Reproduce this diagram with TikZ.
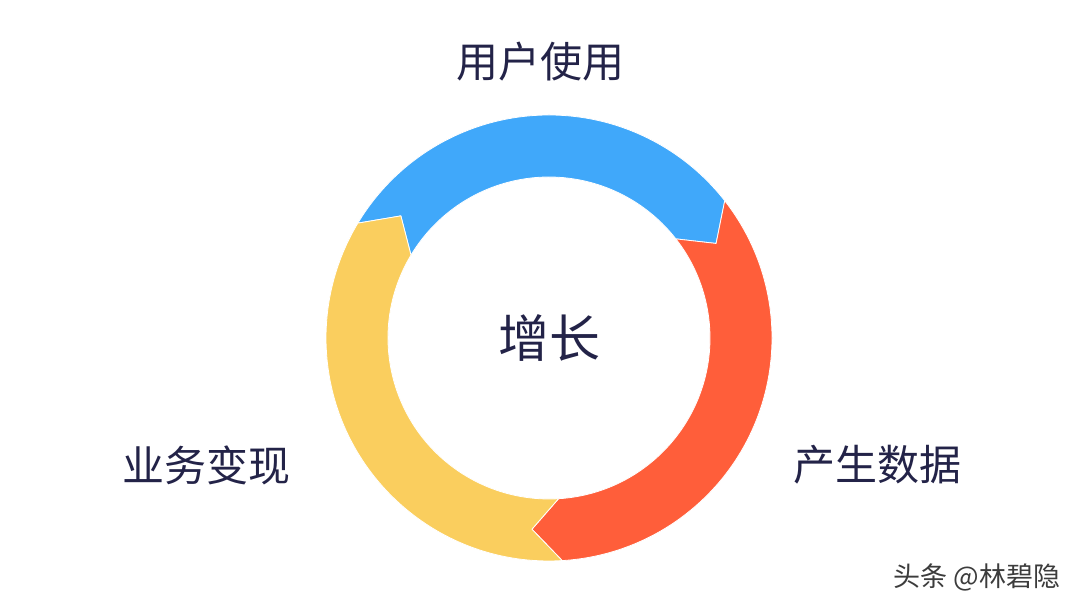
\documentclass[tikz,border=0pt]{standalone}
\usepackage{fontspec}
\newfontfamily\cjk{Noto Sans CJK SC}
\usepackage{tikz}
\definecolor{ringblue}{RGB}{64,168,250}
\definecolor{ringred}{RGB}{255,94,58}
\definecolor{ringyellow}{RGB}{250,206,94}
\definecolor{navy}{RGB}{35,35,72}
\definecolor{markgray}{RGB}{60,60,60}
\newcommand\rout{223}
\newcommand\rin{161}
\newcommand\rmid{192}
\newcommand\tipang{8.5}
% one piece of the ring: start angle, end angle, colour
\newcommand\ringpart[3]{%
  \fill[#3, draw=white, line width=0.8pt, line join=round]
    (#1:\rout) arc[start angle=#1, end angle=#2, radius=\rout]
    -- ({#2-\tipang}:\rmid) -- (#2:\rin)
    arc[start angle=#2, end angle=#1, radius=\rin]
    -- ({#1-\tipang}:\rmid) -- cycle;
}
\tikzset{
    steplabel/.style={text=navy, font=\cjk\fontsize{42}{48}\selectfont, inner sep=0pt},
    centrelabel/.style={text=navy, font=\cjk\fontsize{51}{58}\selectfont, inner sep=0pt},
    watermark/.style={text=markgray, font=\cjk\fontsize{27}{32}\selectfont, inner sep=0pt},
}
\begin{document}
\begin{tikzpicture}[x=1pt, y=1pt]
    \useasboundingbox[fill=white] (0,0) rectangle (1080,607);
    \begin{scope}[shift={(549,269)}]
      \ringpart{149}{38}{ringblue}
      \ringpart{38}{-86.6}{ringred}
      \ringpart{273.4}{149}{ringyellow}
    \end{scope}
    \node[centrelabel] (grow) at (549,269) {增长};
    \node[steplabel] (use) at (540,545) {用户使用};
    \node[steplabel] (data) at (877,142) {产生数据};
    \node[steplabel] (cash) at (206,142) {业务变现};
    \node[watermark] (wm) at (977,30) {头条 @林碧隐};
\end{tikzpicture}
\end{document}
